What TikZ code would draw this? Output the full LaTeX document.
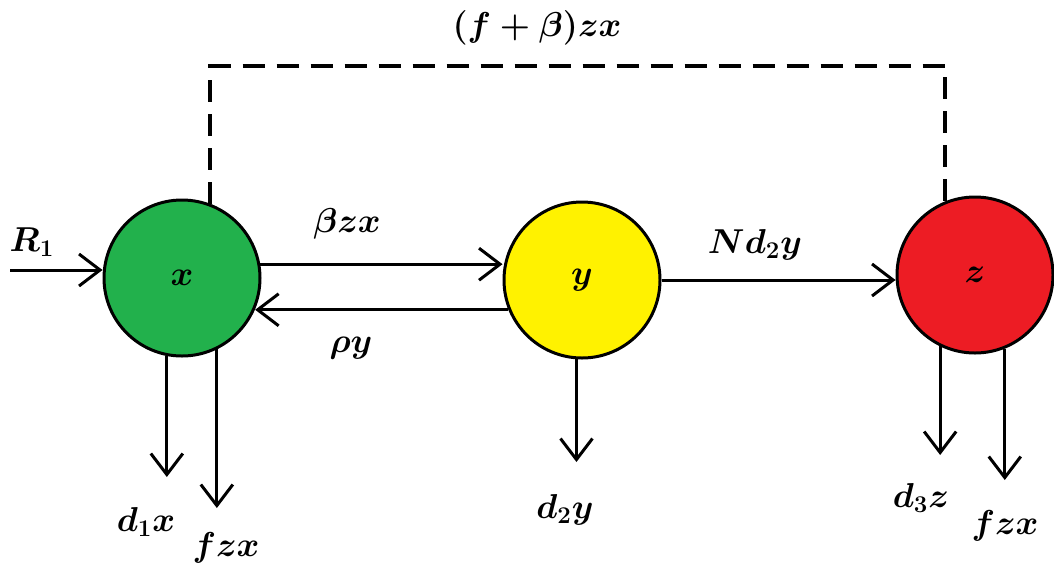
\documentclass[tikz,border=0pt]{standalone}
\usepackage{graphicx}
\usetikzlibrary{arrows.meta}
\definecolor{cgreen}{RGB}{34,177,76}
\definecolor{cyellow}{RGB}{255,242,0}
\definecolor{cred}{RGB}{237,28,36}
\newcommand{\lblmath}[1]{\scalebox{2.0}{\fontsize{17.28}{20}\selectfont\boldmath$#1$}}
\begin{document}
\begin{tikzpicture}[x=1pt,y=-1pt,
  state/.style={circle,draw=black,line width=3pt,minimum size=156pt,inner sep=0pt},
  arr/.style={line width=3pt,-{Straight Barb[length=21pt,width=32pt]}},
  dashline/.style={line width=4pt,dash pattern=on 22pt off 12pt},
  lbl/.style={inner sep=0pt}]
\useasboundingbox (0,0) rectangle (1054,566);
\fill[white] (0,0) rectangle (1054,566);
% states
\node[state,fill=cgreen] (x) at (182,278) {\lblmath{x}};
\node[state,fill=cyellow] (y) at (582,280) {\lblmath{y}};
\node[state,fill=cred] (z) at (975,275) {\lblmath{z}};
% free ends
\coordinate (r1s) at (10,270);
\coordinate (dtop) at (0,66);
\coordinate (ex1) at (167,477);
\coordinate (ex2) at (217,508);
\coordinate (ey1) at (577,462);
\coordinate (ez1) at (940,455);
\coordinate (ez2) at (1005,480);
% connectors
\draw[arr] (r1s) -- (r1s -| x.west);
\draw[arr] (x.10) -- (x.10 -| y.west);
\draw[arr] (y.202) -- (y.202 -| x.-23);
\draw[arr] (y.east) -- (y.east -| z.west);
\draw[arr] (x.259) -- (x.259 |- ex1);
\draw[arr] (x.296) -- (x.296 |- ex2);
\draw[arr] (y.266) -- (y.266 |- ey1);
\draw[arr] (z.244) -- (z.244 |- ez1);
\draw[arr] (z.292) -- (z.292 |- ez2);
\draw[dashline] (x.69) |- (z.112 |- dtop) -- (z.112);
% labels
\node[lbl] (lfb) at (537,28) {\lblmath{(f+\beta)zx}};
\node[lbl] (lr1) at (32,242) {\lblmath{R_1}};
\node[lbl] (lbzx) at (347,224) {\lblmath{\beta zx}};
\node[lbl] (lry) at (351,348) {\lblmath{\rho y}};
\node[lbl] (lnd) at (755,245) {\lblmath{Nd_2y}};
\node[lbl] (ld1) at (146,522) {\lblmath{d_1x}};
\node[lbl] (lfzx1) at (226,548) {\lblmath{fzx}};
\node[lbl] (ld2) at (565,510) {\lblmath{d_2y}};
\node[lbl] (ld3) at (921,498) {\lblmath{d_3z}};
\node[lbl] (lfzx2) at (1005,526) {\lblmath{fzx}};
\end{tikzpicture}
\end{document}
